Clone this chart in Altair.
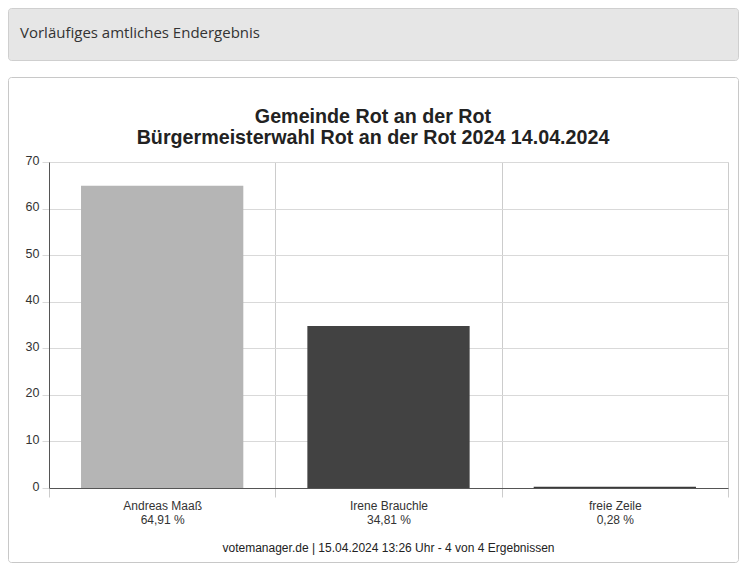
import altair as alt
import pandas as pd

# ---- data ----
names = ["Andreas Maaß", "Irene Brauchle", "freie Zeile"]
percents = [64.91, 34.81, 0.28]
bar_colors = ["#b5b5b5", "#424242", "#3a3a3a"]
y_ticks = [0, 10, 20, 30, 40, 50, 60, 70]
title_lines = ["Gemeinde Rot an der Rot", "Bürgermeisterwahl Rot an der Rot 2024 14.04.2024"]
header_text = "Vorläufiges amtliches Endergebnis"
footer_text = "votemanager.de | 15.04.2024 13:26 Uhr - 4 von 4 Ergebnissen"

labels = [f"{n}|{format(p, '.2f').replace('.', ',')} %" for n, p in zip(names, percents)]
df = pd.DataFrame({"name": names, "pct": percents, "label": labels})

W, H = 679, 326
PAD_L, PAD_T = 41, 154
SVG_W, SVG_H = 731, 555

FONT = "Liberation Sans"

one = pd.DataFrame({"k": [0]})


# page -> plot coordinates
def px(page_x):
    return page_x - 8 - PAD_L


def py(page_y):
    return page_y - 8 - PAD_T


header_box = alt.Chart(one).mark_rect(
    fill="#e6e6e6", stroke="#cfcfcf", strokeWidth=1, cornerRadius=3
).encode(
    x=alt.value(px(8.5)), x2=alt.value(px(738.5)),
    y=alt.value(py(8.5)), y2=alt.value(py(60.5)),
)

header_label = alt.Chart(one).mark_text(
    align="left", baseline="middle", font="Open Sans", fontSize=15, color="#333333"
).encode(
    x=alt.value(px(20)), y=alt.value(py(33)), text=alt.value(header_text)
)

panel_box = alt.Chart(one).mark_rect(
    fill="#ffffff", fillOpacity=0, stroke="#c8c8c8", strokeWidth=1, cornerRadius=3
).encode(
    x=alt.value(px(8.5)), x2=alt.value(px(738.5)),
    y=alt.value(py(77.5)), y2=alt.value(py(562.5)),
)

title = alt.Chart(one).mark_text(
    align="center", baseline="alphabetic", font=FONT, fontSize=19.7, fontWeight="bold",
    color="#222222", lineHeight=21,
).encode(
    x=alt.value(px(373)), y=alt.value(py(123)), text=alt.value(title_lines)
)

footer = alt.Chart(one).mark_text(
    align="center", baseline="middle", font=FONT, fontSize=12, color="#222222"
).encode(
    x=alt.value(W / 2), y=alt.value(py(548)), text=alt.value(footer_text)
)

bars = alt.Chart(df).mark_bar(width=alt.RelativeBandSize(0.717)).encode(
    x=alt.X(
        "label:N", sort=None,
        scale=alt.Scale(paddingInner=0, paddingOuter=0),
        axis=alt.Axis(
            title=None, labelAngle=0,
            labelExpr="isValid(datum.value) ? split(datum.value, '|') : ''",
            tickBand="extent", grid=True, gridColor="#cccccc",
            ticks=True, tickSize=9, tickColor="#cccccc",
            domainColor="#555555", labelFont=FONT, labelFontSize=12,
            labelLineHeight=14, labelPadding=3, labelColor="#333333",
        ),
    ),
    y=alt.Y(
        "pct:Q",
        scale=alt.Scale(domain=[0, 70], nice=False),
        axis=alt.Axis(
            title=None, values=y_ticks, grid=True, gridColor="#d9d9d9",
            tickSize=7, tickColor="#d9d9d9", domainColor="#555555",
            labelFont=FONT, labelFontSize=12.5, labelColor="#333333", labelPadding=3,
            labelOffset=-2,
        ),
    ),
    color=alt.Color("name:N", scale=alt.Scale(domain=names, range=bar_colors), legend=None),
)

chart = alt.layer(header_box, header_label, panel_box, title, footer, bars).properties(
    width=W, height=H,
    autosize=alt.AutoSizeParams(type="none"),
    padding={"left": PAD_L, "top": PAD_T, "right": SVG_W - PAD_L - W, "bottom": SVG_H - PAD_T - H},
).configure_view(stroke=None).configure(background="#ffffff")

chart.save("out.html", embed_options={"renderer": "svg", "actions": False})
